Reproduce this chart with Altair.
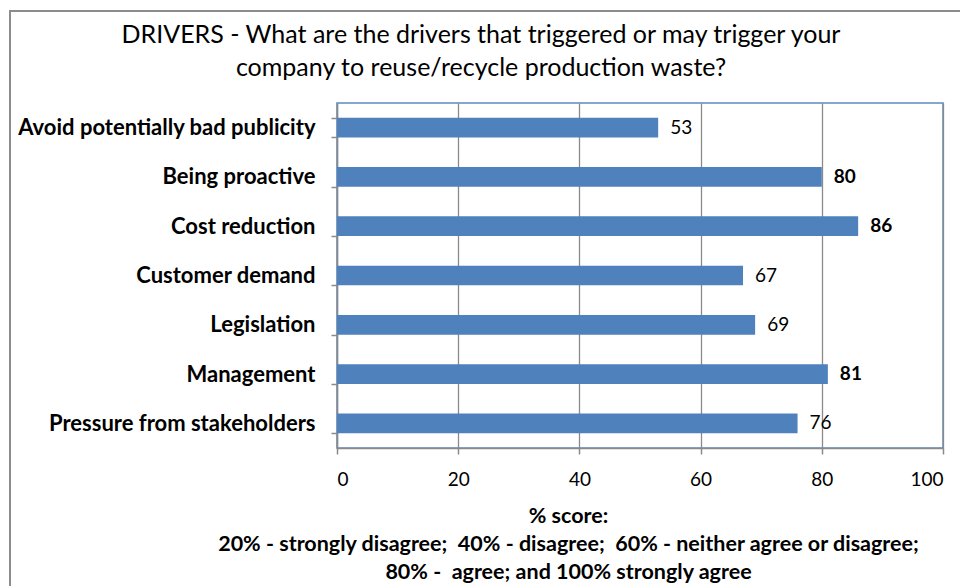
import altair as alt
import pandas as pd

categories = [
    "Avoid potentially bad publicity",
    "Being proactive\u00a0",
    "Cost reduction",
    "Customer demand",
    "Legislation",
    "Management",
    "Pressure from stakeholders",
]
scores = [53, 80, 86, 67, 69, 81, 76]
bold_value = [False, True, True, False, False, True, False]
x_ticks = [0, 20, 40, 60, 80, 100]
title_lines = [
    "DRIVERS - What are the drivers that triggered or may trigger your",
    "company to reuse/recycle production waste?",
]
axis_title_lines = [
    "% score:",
    "20% - strongly disagree;\u00a0 40% - disagree;\u00a0 60% - neither agree or disagree;",
    "80% -\u00a0 agree; and 100% strongly agree",
]

df = pd.DataFrame({"driver": categories, "score": scores, "bold": bold_value})

FONT = "Lato"
GRAY = "#8a8a8a"
BLUE = "#4F81BD"

y_enc = alt.Y(
    "driver:N",
    sort=categories,
    scale=alt.Scale(paddingInner=0.6, paddingOuter=0.3),
    axis=alt.Axis(
        title=None,
        labelFont=FONT,
        labelFontWeight="bold",
        labelFontSize=22,
        labelColor="black",
        labelPadding=16,
        labelLimit=400,
        tickBand="extent",
        tickSize=6,
        tickColor=GRAY,
        tickWidth=1.5,
        domainColor=GRAY,
        domainWidth=1.5,
        grid=False,
    ),
)
x_enc = alt.X(
    "score:Q",
    scale=alt.Scale(domain=[0, 100], nice=False),
    axis=alt.Axis(
        values=x_ticks,
        title=axis_title_lines,
        titleFont=FONT,
        titleFontWeight="bold",
        titleFontSize=21.5,
        titleColor="black",
        titleLineHeight=28,
        titleX=231,
        titleY=74,
        titleAlign="center",
        titleBaseline="alphabetic",
        labelFont=FONT,
        labelFontSize=19,
        labelColor="black",
        labelPadding=16,
        tickSize=6,
        tickColor=GRAY,
        tickWidth=1.5,
        domainColor=GRAY,
        domainWidth=1.5,
        grid=True,
        gridColor=GRAY,
        gridWidth=1.3,
    ),
)

frame = alt.Chart(pd.DataFrame({"a": [0]})).mark_rect(
    fillOpacity=0, stroke="#8c8c8c", strokeWidth=2
).encode(
    x=alt.value(-327),
    x2=alt.value(700),
    y=alt.value(-92),
    y2=alt.value(600),
)

title = alt.Chart(pd.DataFrame({"a": [0]})).mark_text(
    text=title_lines,
    font=FONT,
    fontSize=25,
    color="black",
    align="center",
    baseline="alphabetic",
    lineHeight=33,
).encode(x=alt.value(144), y=alt.value(-60))

base = alt.Chart(df)
bars = base.mark_bar(color=BLUE).encode(x=x_enc, y=y_enc)
labels_normal = base.transform_filter("!datum.bold").mark_text(
    align="left", baseline="middle", dx=12, font=FONT, fontSize=19, color="black"
).encode(x="score:Q", y=alt.Y("driver:N", sort=categories), text="score:Q")
labels_bold = base.transform_filter("datum.bold").mark_text(
    align="left", baseline="middle", dx=12, font=FONT, fontSize=19,
    fontWeight="bold", color="black"
).encode(x="score:Q", y=alt.Y("driver:N", sort=categories), text="score:Q")

chart = alt.layer(frame, bars, labels_normal, labels_bold, title).properties(
    width=606,
    height=345,
    padding={"left": 329, "top": 95, "right": 17, "bottom": 140},
    autosize="none",
).configure_view(stroke="#5B89C4", strokeWidth=1.5)

chart.save("out.html", embed_options={"renderer": "svg", "actions": False})
